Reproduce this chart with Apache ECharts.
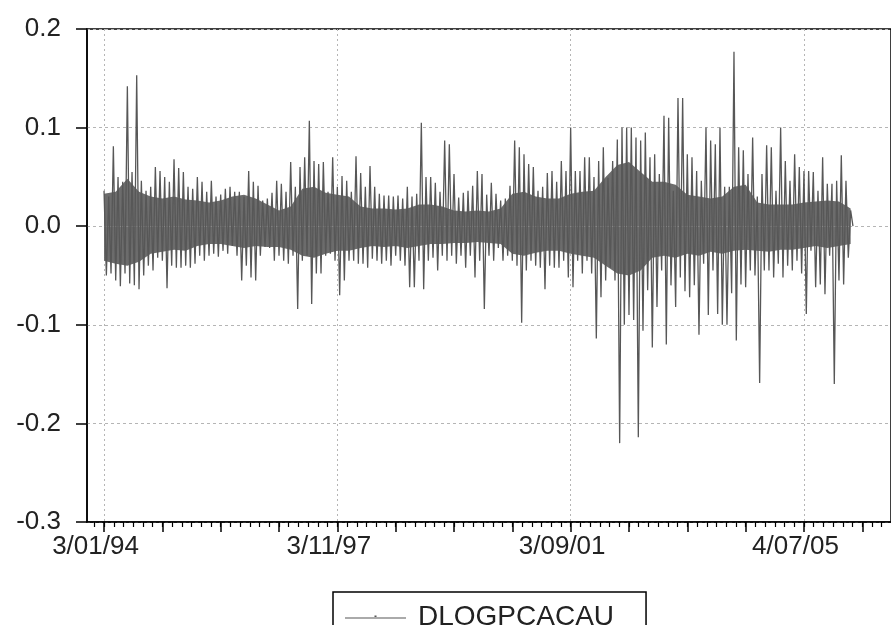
<!DOCTYPE html>
<html>
<head>
<meta charset="utf-8">
<script src="https://cdn.jsdelivr.net/npm/echarts@6/dist/echarts.min.js"></script>
<style>
  html, body { margin: 0; padding: 0; background: #fff; }
  #chart { width: 891px; height: 625px; }
</style>
</head>
<body>
<div id="chart"></div>
<script>
// observation numbers (trading days from 3/01/94) where the date labels sit
var labelObs = [0, 1000, 2000, 3000];
var labelText = ['3/01/94', '3/11/97', '3/09/01', '4/07/05'];

var highs = [
    0.036, 0.030, 0.081, 0.050, 0.045, 0.142, 0.055, 0.153, 0.046, 0.036,
    0.040, 0.060, 0.056, 0.050, 0.045, 0.068, 0.059, 0.055, 0.040, 0.038,
    0.050, 0.045, 0.035, 0.046, 0.030, 0.032, 0.038, 0.040, 0.035, 0.035,
    0.030, 0.056, 0.045, 0.041, 0.026, 0.028, 0.034, 0.046, 0.043, 0.035,
    0.065, 0.040, 0.060, 0.070, 0.107, 0.066, 0.063, 0.065, 0.035, 0.070,
    0.040, 0.051, 0.046, 0.035, 0.071, 0.054, 0.040, 0.061, 0.040, 0.033,
    0.031, 0.031, 0.030, 0.031, 0.028, 0.040, 0.030, 0.033, 0.105, 0.050,
    0.050, 0.044, 0.035, 0.087, 0.083, 0.053, 0.029, 0.034, 0.036, 0.041,
    0.056, 0.053, 0.032, 0.044, 0.033, 0.026, 0.028, 0.041, 0.087, 0.080,
    0.073, 0.063, 0.060, 0.036, 0.040, 0.054, 0.056, 0.045, 0.066, 0.056,
    0.100, 0.056, 0.056, 0.070, 0.070, 0.050, 0.066, 0.080, 0.049, 0.066,
    0.088, 0.100, 0.100, 0.100, 0.090, 0.087, 0.095, 0.070, 0.073, 0.053,
    0.112, 0.110, 0.036, 0.130, 0.130, 0.073, 0.070, 0.056, 0.046, 0.100,
    0.087, 0.083, 0.100, 0.040, 0.040, 0.177, 0.080, 0.077, 0.053, 0.090,
    0.030, 0.053, 0.082, 0.080, 0.036, 0.100, 0.066, 0.046, 0.073, 0.060,
    0.056, 0.056, 0.055, 0.036, 0.070, 0.043, 0.043, 0.046, 0.072, 0.046, 0.016
];
var lows = [
    -0.050, -0.048, -0.055, -0.061, -0.048, -0.058, -0.060, -0.064, -0.050, -0.040,
    -0.045, -0.032, -0.035, -0.063, -0.040, -0.042, -0.042, -0.040, -0.042, -0.038,
    -0.030, -0.035, -0.030, -0.028, -0.031, -0.025, -0.028, -0.020, -0.030, -0.055,
    -0.040, -0.052, -0.055, -0.030, -0.021, -0.022, -0.035, -0.030, -0.035, -0.038,
    -0.030, -0.084, -0.035, -0.030, -0.079, -0.048, -0.048, -0.030, -0.028, -0.035,
    -0.070, -0.055, -0.035, -0.035, -0.038, -0.038, -0.042, -0.033, -0.035, -0.038,
    -0.035, -0.040, -0.030, -0.035, -0.040, -0.062, -0.062, -0.035, -0.064, -0.035,
    -0.032, -0.045, -0.030, -0.035, -0.030, -0.038, -0.030, -0.042, -0.030, -0.052,
    -0.035, -0.084, -0.030, -0.035, -0.022, -0.035, -0.030, -0.035, -0.040, -0.098,
    -0.045, -0.035, -0.040, -0.042, -0.064, -0.040, -0.042, -0.042, -0.035, -0.052,
    -0.062, -0.035, -0.048, -0.035, -0.048, -0.114, -0.072, -0.055, -0.042, -0.055,
    -0.220, -0.100, -0.090, -0.095, -0.214, -0.106, -0.065, -0.123, -0.082, -0.045,
    -0.120, -0.060, -0.082, -0.052, -0.066, -0.072, -0.060, -0.110, -0.038, -0.090,
    -0.045, -0.089, -0.100, -0.100, -0.068, -0.116, -0.059, -0.062, -0.045, -0.050,
    -0.159, -0.045, -0.045, -0.052, -0.038, -0.052, -0.040, -0.045, -0.035, -0.048,
    -0.089, -0.025, -0.062, -0.059, -0.069, -0.030, -0.160, -0.055, -0.059, -0.032, 0.000
];

// edges of the solid dense core, read every 50 obs
var coreTop = [
    0.033, 0.035, 0.048, 0.035, 0.030, 0.028, 0.030, 0.027, 0.026, 0.024,
    0.026, 0.030, 0.032, 0.028, 0.022, 0.016, 0.020, 0.038, 0.040, 0.034,
    0.032, 0.030, 0.020, 0.018, 0.018, 0.017, 0.018, 0.022, 0.022, 0.020,
    0.016, 0.015, 0.016, 0.015, 0.018, 0.033, 0.035, 0.030, 0.028, 0.028,
    0.033, 0.035, 0.036, 0.050, 0.062, 0.065, 0.055, 0.045, 0.045, 0.042,
    0.032, 0.030, 0.028, 0.030, 0.040, 0.042, 0.024, 0.022, 0.022, 0.022,
    0.024, 0.025, 0.026, 0.025, 0.018
];
var coreBottom = [
    -0.035, -0.038, -0.040, -0.036, -0.028, -0.026, -0.024, -0.025, -0.020, -0.018,
    -0.018, -0.020, -0.022, -0.020, -0.021, -0.021, -0.024, -0.030, -0.032, -0.028,
    -0.025, -0.025, -0.022, -0.020, -0.021, -0.020, -0.022, -0.020, -0.018, -0.018,
    -0.017, -0.017, -0.016, -0.017, -0.018, -0.028, -0.030, -0.027, -0.025, -0.025,
    -0.028, -0.030, -0.032, -0.040, -0.048, -0.050, -0.045, -0.032, -0.030, -0.032,
    -0.028, -0.030, -0.026, -0.028, -0.025, -0.024, -0.025, -0.026, -0.024, -0.024,
    -0.022, -0.020, -0.022, -0.020, -0.018
];

var xMin = -73;
var xMax = 3373;

var seriesData = [];
for (var k = 0; k < highs.length; k++) {
    seriesData.push([k * 20, highs[k]]);
    seriesData.push([k * 20 + 10, lows[k]]);
}
var topData = [];
var bottomData = [];
for (var c = 0; c < coreTop.length; c++) {
    topData.push([c * 50, coreTop[c]]);
    bottomData.push([c * 50, coreBottom[c]]);
}

// medium ticks every 250 obs, small ones six to each 250
var midTicks = [];
for (var t = 0; t <= xMax; t += 250) midTicks.push(t);
var smallTicks = [];
for (var s = -1; s * 250 / 6 <= xMax; s++) smallTicks.push(s * 250 / 6);

var font = '"Liberation Sans", Arial, sans-serif';
var lineGray = '#575757';
var coreGray = '#6c6c6c';

var chart = echarts.init(document.getElementById('chart'));
var option = {
    animation: false,
    backgroundColor: '#fff',
    grid: {
        left: 87, top: 29, right: 0, bottom: 103,
        show: true, borderColor: '#000', borderWidth: 1.5
    },
    legend: {
        left: 333, top: 592,
        padding: [11, 32, 30, 12],
        borderColor: '#000', borderWidth: 1.5,
        itemWidth: 61, itemHeight: 10,
        icon: 'path://M0,4.5 H60 V5.5 H0 Z M29,2.5 H31 V4 H29 Z',
        textStyle: { fontFamily: font, fontSize: 28, color: '#222', padding: [0, 0, 0, 7] },
        data: ['DLOGPCACAU']
    },
    xAxis: [
        {
            type: 'value', min: xMin, max: xMax, position: 'bottom',
            axisLine: { show: true, onZero: false, lineStyle: { color: '#000', width: 1.5 } },
            axisTick: { show: true, customValues: labelObs, length: 10, lineStyle: { color: '#000', width: 1.5 } },
            axisLabel: {
                customValues: labelObs, margin: 12, padding: [0, 17, 0, 0],
                fontFamily: font, fontSize: 26, color: '#222',
                formatter: function (v) {
                    var i = labelObs.indexOf(Math.round(v));
                    return i >= 0 ? labelText[i] : '';
                }
            },
            splitLine: { show: true, lineStyle: { color: '#b5b5b5', type: [2, 3], width: 1 } }
        },
        {
            type: 'value', min: xMin, max: xMax, position: 'bottom',
            axisLine: { show: false, onZero: false },
            axisTick: { show: true, customValues: midTicks, length: 10, lineStyle: { color: '#000', width: 1.5 } },
            axisLabel: { show: false },
            splitLine: { show: false }
        },
        {
            type: 'value', min: xMin, max: xMax, position: 'bottom',
            axisLine: { show: false, onZero: false },
            axisTick: { show: true, customValues: smallTicks, length: 5, lineStyle: { color: '#000', width: 1.2 } },
            axisLabel: { show: false },
            splitLine: { show: false }
        }
    ],
    yAxis: {
        type: 'value', min: -0.3, max: 0.2, interval: 0.1,
        axisLine: { show: true, onZero: false, lineStyle: { color: '#000', width: 1.5 } },
        axisTick: { show: true, length: 11, lineStyle: { color: '#000', width: 1.5 } },
        axisLabel: {
            margin: 26, fontFamily: font, fontSize: 26, color: '#222',
            formatter: function (v) { return v.toFixed(1); }
        },
        splitLine: { show: true, lineStyle: { color: '#b5b5b5', type: [3, 3], width: 1 } }
    },
    series: [
        {
            name: 'core top',
            type: 'line',
            data: topData,
            showSymbol: false,
            symbol: 'none',
            lineStyle: { width: 0 },
            areaStyle: { color: coreGray, opacity: 1 },
            silent: true
        },
        {
            name: 'core bottom',
            type: 'line',
            data: bottomData,
            showSymbol: false,
            symbol: 'none',
            lineStyle: { width: 0 },
            areaStyle: { color: coreGray, opacity: 1 },
            silent: true
        },
        {
            name: 'DLOGPCACAU',
            type: 'line',
            xAxisIndex: 0,
            data: seriesData,
            showSymbol: false,
            symbol: 'none',
            lineStyle: { color: lineGray, width: 1.3 },
            itemStyle: { color: lineGray }
        }
    ]
};
chart.setOption(option);
</script>
</body>
</html>
